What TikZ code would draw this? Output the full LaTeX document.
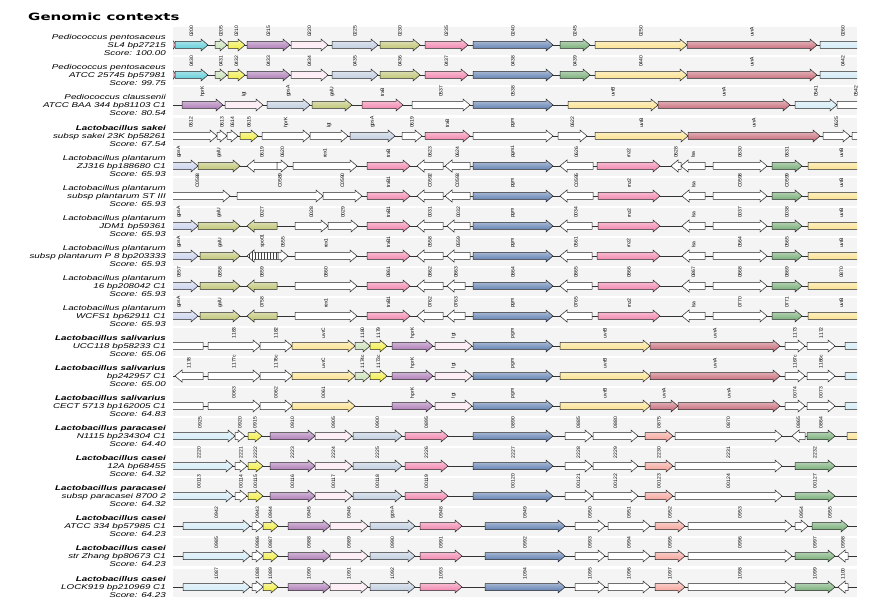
\documentclass[tikz,border=0pt]{standalone}
\usepackage{fontspec}
\setmainfont{Liberation Sans}
\newfontfamily\rowfont[FakeStretch=1.4]{Liberation Sans}
\newfontfamily\titlefont[FakeStretch=1.5]{DejaVu Sans}
\newfontfamily\genefont{Liberation Sans}
\usepackage{tikz}
\usetikzlibrary{patterns}

\definecolor{cyG}{RGB}{80,200,212}
\definecolor{lgG}{RGB}{196,222,176}
\definecolor{yeG}{RGB}{240,236,50}
\definecolor{puG}{RGB}{165,110,175}
\definecolor{wpG}{RGB}{252,238,244}
\definecolor{bgG}{RGB}{185,200,220}
\definecolor{olG}{RGB}{185,190,100}
\definecolor{pkG}{RGB}{240,120,165}
\definecolor{blG}{RGB}{80,115,170}
\definecolor{grG}{RGB}{105,165,105}
\definecolor{lyG}{RGB}{250,222,130}
\definecolor{rdG}{RGB}{195,95,110}
\definecolor{lcG}{RGB}{205,232,245}
\definecolor{saG}{RGB}{245,155,145}
\definecolor{lvG}{RGB}{195,205,235}
\definecolor{bandG}{RGB}{244,244,244}

\tikzset{
  gfill/.style={top color=#1!40!white, bottom color=#1},
  gcy/.style={gfill=cyG}, glg/.style={gfill=lgG}, gye/.style={gfill=yeG},
  gpu/.style={gfill=puG}, gwp/.style={fill=wpG}, gbg/.style={gfill=bgG},
  gol/.style={gfill=olG}, gpk/.style={gfill=pkG}, gbl/.style={gfill=blG},
  ggr/.style={gfill=grG}, gly/.style={gfill=lyG}, grd/.style={gfill=rdG},
  glc/.style={gfill=lcG}, gsa/.style={gfill=saG}, glv/.style={gfill=lvG},
  gwh/.style={fill=white},
  ghatch/.style={preaction={fill=white}, pattern=vertical lines, pattern color=black!75},
  gene/.style={draw=black!85, line width=0.5pt, line join=miter},
  glabel/.style={rotate=90, anchor=west, inner sep=0.3pt, font=\genefont\fontsize{5}{5}\selectfont},
  rowlab/.style={anchor=east, align=right, inner sep=0pt, font=\rowfont\itshape\fontsize{7}{8}\selectfont},
  backbone/.style={draw=black!80, line width=0.5pt},
}

% #1 index, #2 y, #3-#5 label lines, #6 genes x1/x2/style/name
\newcommand{\generow}[6]{
  \fill[bandG] (173,#2-18) rectangle (857,#2+10);
  \node[rowlab] (lab#1) at (166,#2) {#3\\#4\\Score: #5};
  \begin{scope}
    \clip (173,#2-24) rectangle (857,#2+12);
    \coordinate (r#1a) at (173,#2);
    \coordinate (r#1b) at (857,#2);
    \draw[backbone] (r#1a) -- (r#1b);
    \foreach \xa/\xb/\s/\l in {#6} {
      \pgfmathsetmacro\len{abs(\xb-\xa)}
      \pgfmathsetmacro\hd{min(7,0.7*\len)*sign(\xb-\xa)}
      \pgfmathsetmacro\xm{\xb-\hd}
      \draw[gene,\s] (\xa,#2-3.5) -- (\xm,#2-3.5) -- (\xm,#2-6) -- (\xb,#2)
        -- (\xm,#2+6) -- (\xm,#2+3.5) -- (\xa,#2+3.5) -- cycle;
      \node[glabel] at ({(\xa+\xb)/2},#2-7.5) {\l};
    }
  \end{scope}
}

\begin{document}
\begin{tikzpicture}[x=1pt, y=-1pt]
  \useasboundingbox[fill=white] (0,0) rectangle (883,609);
  \node[anchor=base west, inner sep=0pt, font=\titlefont\bfseries\fontsize{10}{12}\selectfont] (title) at (28,21) {Genomic contexts};

  \generow{1}{45}{Pediococcus pentosaceus}{SL4 bp27215}{100.00}{
    170/176/gpk/{}, 175/208/gcy/0200, 215/227/glg/0205, 228/245/gye/0210, 247/290/gpu/0215,
    291/328/gwp/0220, 332/378/gbg/0225, 380/420/gol/0230, 425/468/gpk/0235, 473/553/gbl/0240,
    560/590/ggr/0245, 595/687/gly/0250, 687/817/grd/uvrA, 820/866/glc/0260}
  \generow{2}{75}{Pediococcus pentosaceus}{ATCC 25745 bp57981}{99.75}{
    170/176/gpk/{}, 175/208/gcy/0430, 215/227/glg/0431, 228/245/gye/0432, 247/290/gpu/0433,
    291/328/gwp/0434, 332/378/gbg/0435, 380/420/gol/0436, 425/468/gpk/0437, 473/553/gbl/0438,
    560/590/ggr/0439, 595/687/gly/0440, 687/817/grd/uvrA, 820/866/glc/0442}
  \generow{3}{105}{Pediococcus claussenii}{ATCC BAA 344 bp81103 C1}{80.54}{
    182/223/gpu/hprK, 225/263/gwp/lgt, 267/310/gbg/gpsA, 312/352/gol/galU, 362/403/gpk/trxB,
    412/470/gwh/0537, 473/553/gbl/0538, 568/658/gly/uvrB, 658/790/grd/uvrA, 795/837/glc/0541,
    837/875/gwh/0542}
  \generow{4}{136}{\textbf{Lactobacillus sakei}}{subsp sakei 23K bp58261}{67.54}{
    165/217/gwh/0612, 217/227/gwh/0613, 227/238/gwh/0614, 240/258/gye/0615, 262/310/gwh/hprK,
    310/348/gwh/lgt, 350/395/gbg/gpsA, 402/422/gwh/0619, 425/470/gpk/trxB, 473/553/gwh/pgm,
    558/587/gwh/0622, 595/688/gly/uvrB, 688/820/grd/uvrA, 823/850/gwh/0625, 852/866/gwh/{}}
  \generow{5}{166}{Lactobacillus plantarum}{ZJ316 bp188680 C1}{65.93}{
    160/198/glv/gpsA, 198/240/gol/galU, 277/247/gwh/0619, 277/288/gwh/0620, 293/357/gwh/rex1,
    367/410/gpk/trxB, 443/417/gwh/0623, 470/445/gwh/0624, 473/553/gbl/pgm1, 593/560/gwh/0626,
    597/660/gpk/rnz2, 681/671/gwh/0628, 705/681/gwh/lsa, 713/767/gwh/0630, 772/802/ggr/0631,
    808/875/gly/uvrB}
  \generow{6}{196}{Lactobacillus plantarum}{subsp plantarum ST III}{65.93}{
    165/230/gwh/C0588, 237/323/gwh/C0589, 323/362/gwh/C0590, 367/410/gpk/trxB1, 443/417/gwh/C0592,
    470/445/gwh/C0593, 473/553/gbl/pgm, 593/560/gwh/C0595, 598/660/gpk/rnz2, 705/682/gwh/lsa,
    713/767/gwh/C0598, 772/802/ggr/C0599, 808/875/gly/uvrB}
  \generow{7}{226}{Lactobacillus plantarum}{JDM1 bp59361}{65.93}{
    160/198/glv/gpsA, 198/240/gol/galU, 277/247/gol/0027, 295/328/gwh/0028, 328/358/gwh/0029,
    367/410/gpk/trxB1, 443/417/gwh/0031, 470/447/gwh/0032, 473/553/gbl/pgm, 592/560/gwh/0034,
    598/660/gpk/rnz2, 705/682/gwh/lsa, 713/767/gwh/0037, 772/802/ggr/0038, 808/875/gly/uvrB}
  \generow{8}{256}{Lactobacillus plantarum}{subsp plantarum P 8 bp203333}{65.93}{
    160/198/glv/gpsA, 200/240/gol/galU, 278/247/ghatch/spo01, 278/288/gwh/0555, 295/357/gwh/rex1,
    367/410/gpk/trxB1, 443/417/gwh/0558, 470/447/gwh/0559, 473/553/gbl/pgm, 592/560/gwh/0561,
    597/660/gpk/rnz2, 705/682/gwh/lsa, 713/767/gwh/0564, 772/802/ggr/0565, 808/875/gly/uvrB}
  \generow{9}{286}{Lactobacillus plantarum}{16 bp208042 C1}{65.93}{
    160/198/glv/0857, 200/240/gol/0858, 277/247/gol/0859, 295/357/gwh/0860, 367/410/gpk/0861,
    443/417/gwh/0862, 465/447/gwh/0863, 473/553/gbl/0864, 592/560/gwh/0865, 598/660/gpk/0866,
    705/682/gwh/0867, 713/767/gwh/0868, 772/802/ggr/0869, 808/875/gly/0870}
  \generow{10}{316}{Lactobacillus plantarum}{WCFS1 bp62911 C1}{65.93}{
    160/198/glv/gpsA, 200/240/gol/galU, 277/247/gol/0758, 295/357/gwh/rex1, 367/410/gpk/trxB1,
    443/417/gwh/0762, 465/447/gwh/0763, 473/553/gbl/pgm, 592/560/gwh/0765, 598/660/gpk/rnz2,
    705/682/gwh/lsa, 713/767/gwh/0770, 772/802/ggr/0771, 808/875/gly/uvrB}
  \generow{11}{346}{\textbf{Lactobacillus salivarius}}{UCC118 bp58233 C1}{65.06}{
    203/160/gwh/{}, 208/260/gwh/1183, 260/292/gwh/1182, 292/355/gly/uvrC, 355/370/glg/1180,
    370/387/gye/1179, 392/433/gpu/hprK, 435/472/gwp/lgt, 473/553/gbl/pgm, 560/650/gly/uvrB,
    650/780/grd/uvrA, 785/805/gwh/1173, 807/835/gwh/1172, 845/875/glc/{}}
  \generow{12}{376}{\textbf{Lactobacillus salivarius}}{bp242957 C1}{65.00}{
    203/175/gwh/1178, 208/260/gwh/1177c, 260/292/gwh/1176c, 292/355/gly/uvrC, 355/370/glg/1174c,
    370/387/gye/1173c, 392/433/gpu/hprK, 435/472/gwp/lgt, 473/553/gbl/pgm, 560/650/gly/uvrB,
    650/780/grd/uvrA, 785/805/gwh/1167c, 807/835/gwh/1166c, 845/875/glc/{}}
  \generow{13}{406}{\textbf{Lactobacillus salivarius}}{CECT 5713 bp162005 C1}{64.83}{
    203/160/gwh/{}, 208/260/gwh/0063, 260/292/gwh/0062, 292/355/gly/0061, 392/433/gpu/hprK,
    435/472/gwp/lgt, 473/553/gbl/pgm, 560/650/gly/uvrB, 650/678/grd/uvrA, 678/780/grd/uvrA,
    785/805/gwh/0074, 807/835/gwh/0073, 845/875/glc/{}}
  \generow{14}{436}{\textbf{Lactobacillus paracasei}}{N1115 bp234304 C1}{64.40}{
    165/235/glc/0925, 235/245/gwh/0920, 248/262/gye/0915, 270/315/gpu/0910, 315/352/gwp/0905,
    353/402/gbg/0900, 405/448/gpk/0895, 473/553/gbl/0890, 565/592/gwh/0885, 593/638/gwh/0880,
    645/673/gsa/0875, 675/782/gwh/0870, 805/792/gwh/0865, 807/835/ggr/0864, 847/875/gly/{}}
  \generow{15}{466}{\textbf{Lactobacillus casei}}{12A bp68455}{64.32}{
    165/233/glc/2220, 235/247/gwh/2221, 248/263/gye/2222, 270/315/gpu/2223, 315/352/gwp/2224,
    353/402/gbg/2225, 405/448/gpk/2226, 473/553/gbl/2227, 565/592/gwh/2228, 593/638/gwh/2229,
    645/673/gsa/2230, 675/782/gwh/2231, 795/835/ggr/2232}
  \generow{16}{496}{\textbf{Lactobacillus paracasei}}{subsp paracasei 8700 2}{64.32}{
    165/233/glc/00113, 235/247/gwh/00114, 248/263/gye/00115, 270/315/gpu/00116, 315/352/gwp/00117,
    353/402/gbg/00118, 405/448/gpk/00119, 473/553/gbl/00120, 565/592/gwh/00121, 593/638/gwh/00122,
    645/673/gsa/00123, 675/782/gwh/00124, 795/835/ggr/00127}
  \generow{17}{526}{\textbf{Lactobacillus casei}}{ATCC 334 bp57985 C1}{64.23}{
    183/250/glc/0942, 252/263/gwh/0943, 263/278/gye/0944, 288/330/gpu/0945, 330/368/gwp/0946,
    370/415/gbg/gpsA, 420/462/gpk/0948, 485/565/gbl/0949, 575/605/gwh/0950, 608/650/gwh/0951,
    655/685/gsa/0952, 688/792/gwh/0953, 795/808/gwh/0954, 812/848/ggr/0955}
  \generow{18}{556}{\textbf{Lactobacillus casei}}{str Zhang bp80673 C1}{64.23}{
    183/250/glc/0985, 252/263/gwh/0986, 263/278/gye/0987, 288/330/gpu/0988, 330/368/gwp/0989,
    370/415/gbg/0990, 420/462/gpk/0991, 485/565/gbl/0992, 575/605/gwh/0993, 608/650/gwh/0994,
    655/685/gsa/0995, 688/792/gwh/0996, 795/835/ggr/0997, 848/838/gwh/0998}
  \generow{19}{587}{\textbf{Lactobacillus casei}}{LOCK919 bp210969 C1}{64.23}{
    183/250/glc/1087, 252/263/gwh/1088, 263/278/gye/1089, 288/330/gpu/1090, 330/368/gwp/1091,
    370/415/gbg/1092, 420/462/gpk/1093, 485/565/gbl/1094, 575/605/gwh/1095, 608/650/gwh/1096,
    655/685/gsa/1097, 688/792/gwh/1098, 795/835/ggr/1099, 848/838/gwh/1100}
\end{tikzpicture}
\end{document}
